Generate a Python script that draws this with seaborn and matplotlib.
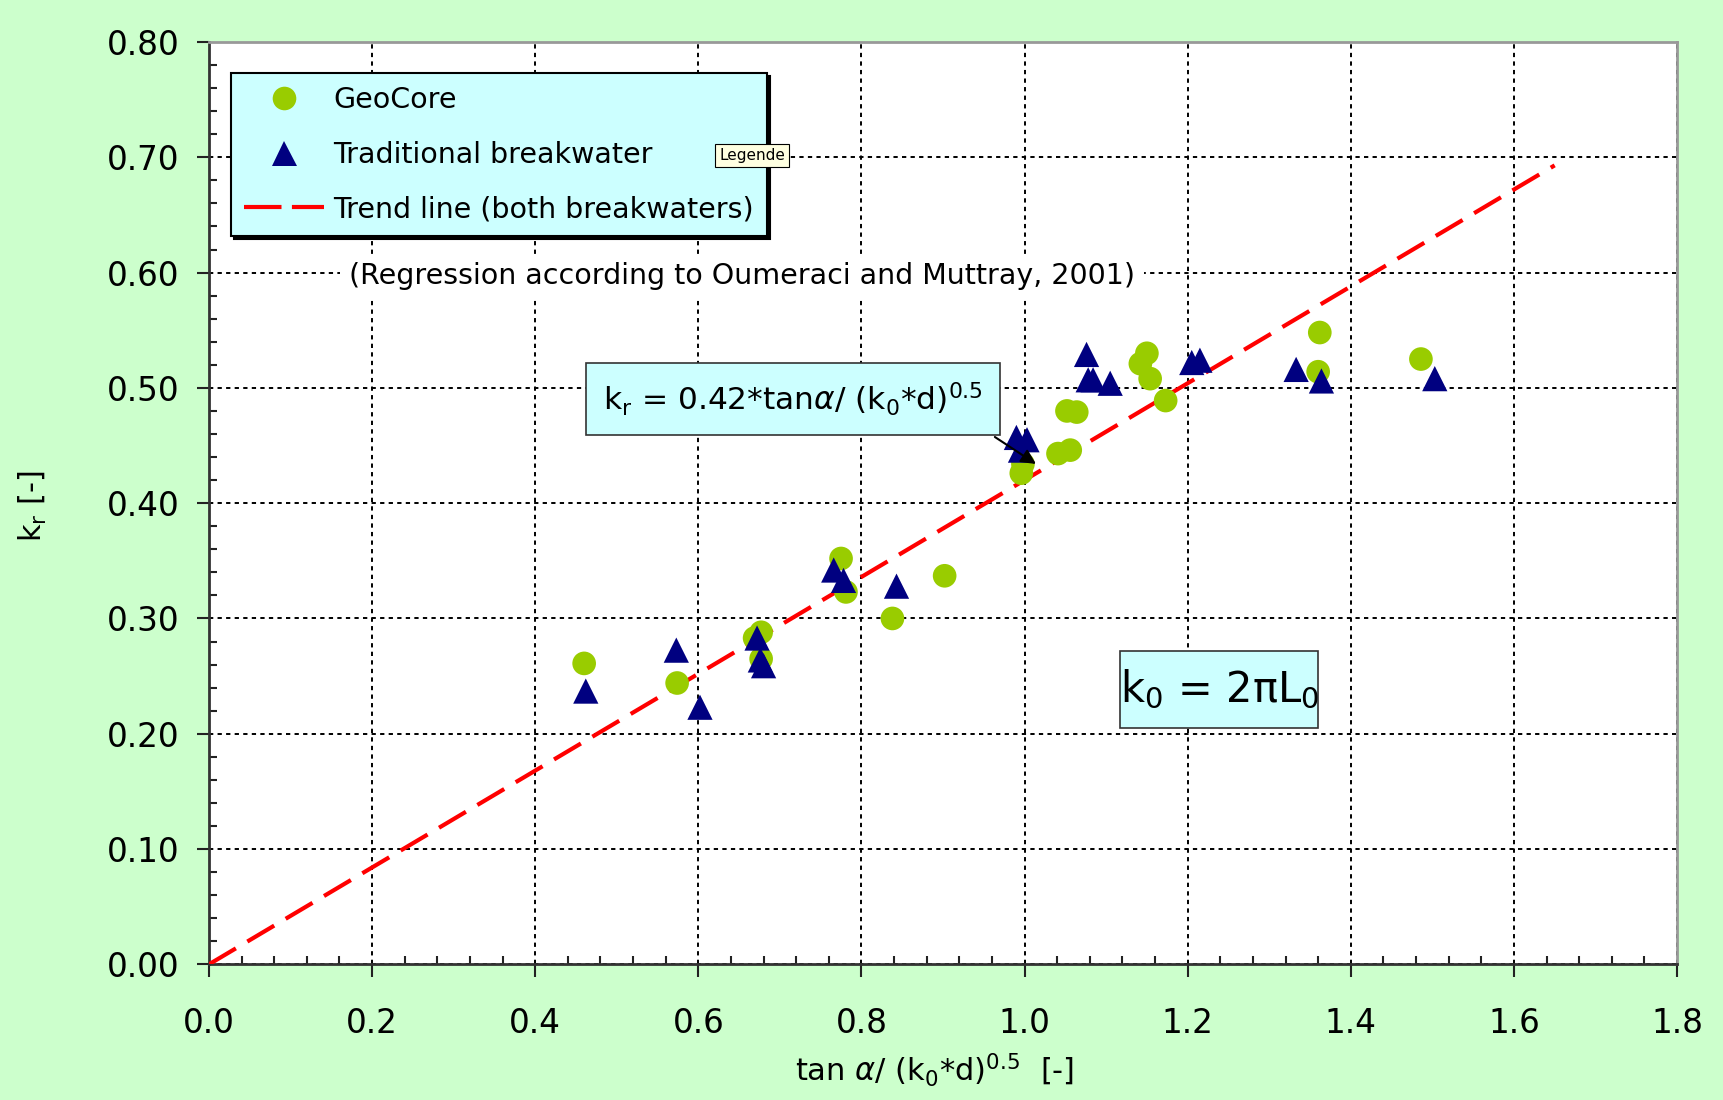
import matplotlib
matplotlib.use("Agg")
import matplotlib.pyplot as plt
import seaborn as sns
import numpy as np
from matplotlib.lines import Line2D
from matplotlib.patches import Rectangle
from matplotlib.ticker import MultipleLocator, FormatStrFormatter

# ---- data ----
geo_x = [0.460, 0.574, 0.669, 0.677, 0.677, 0.775, 0.781, 0.838, 0.902, 0.996, 0.998,
         1.041, 1.056, 1.052, 1.064, 1.142, 1.150, 1.154, 1.173, 1.362, 1.360, 1.486]
geo_y = [0.261, 0.244, 0.283, 0.288, 0.265, 0.352, 0.323, 0.300, 0.337, 0.426, 0.434,
         0.443, 0.446, 0.480, 0.479, 0.521, 0.530, 0.508, 0.489, 0.548, 0.514, 0.525]

trad_x = [0.462, 0.573, 0.602, 0.672, 0.676, 0.680, 0.766, 0.778, 0.843, 0.990, 1.003,
          0.995, 1.076, 1.078, 1.084, 1.105, 1.205, 1.215, 1.333, 1.364, 1.503]
trad_y = [0.237, 0.2725, 0.223, 0.283, 0.264, 0.259, 0.342, 0.333, 0.328, 0.457, 0.455,
          0.446, 0.529, 0.507, 0.507, 0.504, 0.522, 0.524, 0.516, 0.506, 0.508]

trend_x = [0.0, 1.65]
trend_y = [0.0, 0.693]

x_ticks = [0.0, 0.2, 0.4, 0.6, 0.8, 1.0, 1.2, 1.4, 1.6, 1.8]
y_ticks = [0.0, 0.1, 0.2, 0.3, 0.4, 0.5, 0.6, 0.7, 0.8]

labels = ["GeoCore", "Traditional breakwater", "Trend line (both breakwaters)"]

GREEN = "#99CC00"
NAVY = "#000080"
RED = "#FF0000"
CYAN = "#CCFFFF"
BG = "#CCFFCC"

sns.set_style("white")
plt.rcParams["font.family"] = ["DejaVu Sans"]
plt.rcParams["mathtext.fontset"] = "dejavusans"
plt.rcParams["mathtext.default"] = "regular"
plt.rcParams["text.color"] = "black"
plt.rcParams["axes.labelcolor"] = "black"
plt.rcParams["xtick.color"] = "black"
plt.rcParams["ytick.color"] = "black"

fig = plt.figure(figsize=(17.24, 11.0), dpi=100, facecolor=BG)
ax = fig.add_axes([0.12123, 0.12336, 0.85151, 0.83845])
ax.set_facecolor("white")

# trend line
sns.lineplot(x=trend_x, y=trend_y, ax=ax, color=RED, lw=3.0, zorder=3)
ax.lines[-1].set_dashes([7.5, 3.2])

# scatter
sns.scatterplot(x=geo_x, y=geo_y, ax=ax, marker="o", s=290, color=GREEN,
                edgecolor="none", linewidth=0, zorder=4)
sns.scatterplot(x=trad_x, y=trad_y, ax=ax, marker="^", s=330, color=NAVY,
                edgecolor="none", linewidth=0, zorder=5)

ax.set_xlim(0, 1.8)
ax.set_ylim(0, 0.8)
ax.set_xticks(x_ticks)
ax.set_yticks(y_ticks)
ax.xaxis.set_major_formatter(FormatStrFormatter("%.1f"))
ax.yaxis.set_major_formatter(FormatStrFormatter("%.2f"))
ax.xaxis.set_minor_locator(MultipleLocator(0.04))
ax.yaxis.set_minor_locator(MultipleLocator(0.02))

ax.tick_params(axis="both", which="major", direction="out", length=9, width=1.5,
               color="#222222", labelsize=23.5, labelcolor="black")
ax.tick_params(axis="x", which="major", pad=22)
ax.tick_params(axis="y", which="major", pad=12)
ax.tick_params(axis="both", which="minor", direction="in", length=6, width=1.5,
               color="#222222")
ax.tick_params(left=True, bottom=True, which="both")

ax.grid(True, which="major", color="black", linestyle=(0, (2.2, 2.2)), linewidth=1.4)
ax.set_axisbelow(True)

for s in ["left", "bottom"]:
    ax.spines[s].set_color("#333333")
    ax.spines[s].set_linewidth(2.0)
for s in ["top", "right"]:
    ax.spines[s].set_color("#999999")
    ax.spines[s].set_linewidth(2.0)

ax.set_xlabel(r"tan $\mathit{\alpha}$/ (k$_0$*d)$^{0.5}$  [-]", fontsize=22)
ax.set_ylabel(r"k$_r$ [-]", fontsize=22)
ax.xaxis.set_label_coords(0.494, -0.115)
ax.xaxis.label.set_va("center")
ax.yaxis.set_label_coords(-0.12, 0.497)
ax.yaxis.label.set_va("center")

# legend
handles = [
    Line2D([], [], marker="o", ls="none", color=GREEN, markersize=17, markeredgewidth=0),
    Line2D([], [], marker="^", ls="none", color=NAVY, markersize=18, markeredgewidth=0),
    Line2D([], [], color=RED, lw=3.0, dashes=[9, 2.5]),
]
leg = ax.legend(handles, labels, loc="upper left", bbox_to_anchor=(0.015, 0.966),
                borderaxespad=0, fontsize=20.5, frameon=True, fancybox=False,
                shadow={"color": "black", "alpha": 1.0}, facecolor=CYAN,
                edgecolor="black", framealpha=1, handlelength=2.8, handletextpad=0.35,
                borderpad=0.45, labelspacing=0.93)
leg.get_frame().set_linewidth(1.5)
leg.set_zorder(10)
for t in leg.get_texts():
    t.set_color("black")

# tooltip
ax.text(0.666, 0.7017, "Legende", fontsize=11, ha="center", va="center", zorder=11,
        bbox=dict(boxstyle="square,pad=0.25", fc="#FFFFE1", ec="black", lw=0.8))

# regression note
ax.text(0.6535, 0.5968, "(Regression according to Oumeraci and Muttray, 2001)",
        fontsize=20.5, ha="center", va="center", zorder=6,
        bbox=dict(boxstyle="square,pad=0.3", fc="white", ec="none"))

# equation box with arrow
ax.annotate("", xy=(1.014, 0.434), xytext=(0.9636, 0.4574), zorder=8,
            arrowprops=dict(arrowstyle="-|>", color="black", lw=1.5, mutation_scale=22,
                            shrinkA=0, shrinkB=0))
ax.text(0.716, 0.4904, r"k$_r$ = 0.42*tan$\mathit{\alpha}$/ (k$_0$*d)$^{0.5}$", fontsize=22.5,
        ha="center", va="center", zorder=9,
        bbox=dict(boxstyle="square,pad=0.55", fc=CYAN, ec="#333333", lw=1.2))

# k0 box
ax.add_patch(Rectangle((1.1171, 0.2046), 0.2432, 0.0673, fc=CYAN, ec="#333333",
                       lw=1.2, zorder=8))
ax.text(1.2388, 0.2383, r"k$_0$ = 2$\pi$L$_0$", fontsize=30, ha="center", va="center",
        zorder=9)

fig.savefig("out.png", dpi=100, facecolor=BG)
